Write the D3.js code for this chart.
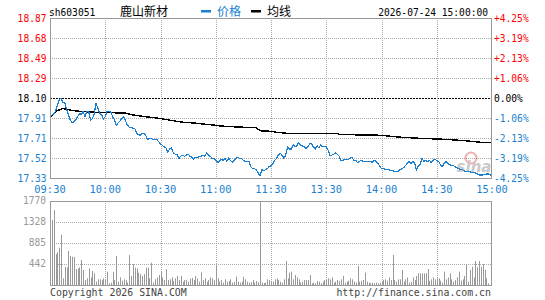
<!DOCTYPE html>
<html>
<head>
<meta charset="utf-8">
<script src="https://cdn.jsdelivr.net/npm/d3@7"></script>
<style>
  body { margin: 0; background: #fff; }
  svg { display: block; }
  text { font-family: "DejaVu Sans Mono", monospace; font-size: 9.6px; }
  .cjk { font-family: "Noto Sans CJK SC", sans-serif; font-size: 12px; }
</style>
</head>
<body>
<div id="chart"></div>
<script>
// header
var stockCode = "sh603051";
var stockName = "鹿山新材";
var stamp = "2026-07-24 15:00:00";
var legendNames = ["价格", "均线"];

// axes
var prevClose = 18.10;
var pctTicks = [4.25, 3.19, 2.13, 1.06, 0, -1.06, -2.13, -3.19, -4.25];
var priceLabels = ["18.87", "18.68", "18.49", "18.29", "18.10", "17.91", "17.71", "17.52", "17.33"];
var pctLabels = ["+4.25%", "+3.19%", "+2.13%", "+1.06%", "0.00%", "-1.06%", "-2.13%", "-3.19%", "-4.25%"];
var timeTicks = [0, 30, 60, 90, 120, 150, 180, 210, 240];
var timeLabels = ["09:30", "10:00", "10:30", "11:00", "11:30", "13:30", "14:00", "14:30", "15:00"];
var volTicks = [1770, 1328, 885, 442];

// price line (minute index from 09:30, price)
var priceMin = [0,2,3,4,5,6,7,8,9,10,11,12,13,14,15,16,17,18,19,20,21,22,23,24,25,26,27,28,29,30,31,33,34,35,36,37,38,39,40,41,42,43,45,46,47,49,50,51,52,53,54,55,56,58,60,62,63,64,65,66,67,68,69,70,71,72,73,74,75,76,77,78,79,80,82,83,84,85,86,87,88,89,90,91,92,93,94,95,96,97,98,99,100,101,102,103,104,105,106,108,109,110,111,112,113,114,115,116,117,118,119,120,
  121,122,123,124,125,126,127,128,129,130,131,132,133,134,135,136,137,138,139,140,141,142,143,144,145,146,147,148,149,150,151,152,153,154,155,156,157,158,159,160,162,163,164,165,166,167,168,169,170,171,172,173,174,175,176,177,178,179,180,181,183,184,186,188,189,190,191,192,193,194,195,196,197,198,199,200,201,202,203,204,205,206,207,208,209,210,211,212,213,214,215,216,217,218,219,220,221,222,223,224,225,226,228,230,231,232,233,235,237,238,239,240];
var priceVal = [17.92,17.95,17.97,18.03,18.08,18.10,18.06,18.06,17.99,17.94,17.89,17.86,17.87,17.89,17.92,17.95,17.94,17.97,17.92,17.97,17.97,17.89,17.90,17.95,18.05,18.00,17.95,17.94,17.90,17.92,17.97,17.97,17.92,17.89,17.84,17.86,17.88,17.90,17.92,17.88,17.84,17.82,17.81,17.81,17.76,17.74,17.76,17.76,17.74,17.70,17.71,17.71,17.70,17.70,17.66,17.63,17.62,17.58,17.61,17.62,17.57,17.56,17.56,17.52,17.54,17.55,17.54,17.55,17.56,17.54,17.53,17.51,17.53,17.53,17.54,17.55,17.54,17.57,17.55,17.54,17.52,17.52,17.50,17.48,17.49,17.51,17.50,17.52,17.49,17.52,17.50,17.48,17.50,17.52,17.53,17.52,17.52,17.50,17.49,17.49,17.44,17.42,17.42,17.41,17.38,17.35,17.41,17.40,17.41,17.42,17.44,17.45,
  17.47,17.50,17.52,17.55,17.57,17.55,17.52,17.55,17.63,17.61,17.61,17.65,17.63,17.64,17.67,17.65,17.64,17.63,17.61,17.63,17.66,17.66,17.63,17.61,17.64,17.62,17.65,17.63,17.63,17.63,17.60,17.55,17.55,17.56,17.57,17.56,17.54,17.50,17.50,17.51,17.51,17.52,17.53,17.50,17.50,17.48,17.49,17.50,17.49,17.49,17.49,17.49,17.49,17.48,17.50,17.49,17.47,17.45,17.42,17.42,17.41,17.41,17.40,17.39,17.39,17.41,17.42,17.43,17.45,17.47,17.49,17.47,17.49,17.47,17.41,17.45,17.46,17.52,17.49,17.50,17.49,17.50,17.48,17.50,17.51,17.50,17.49,17.46,17.44,17.47,17.49,17.47,17.46,17.45,17.45,17.44,17.43,17.42,17.41,17.41,17.40,17.39,17.39,17.38,17.38,17.37,17.36,17.36,17.37,17.37,17.36,17.34];

// average line
var avgMin = [0, 3, 7, 9, 14, 22, 30, 41, 44, 52, 59, 64, 69, 73, 78, 83, 89, 93, 103, 112, 113, 114, 120, 123, 129, 156, 157, 168, 179, 191, 200, 214, 225, 234, 240];
var avgVal = [17.91, 17.97, 18.00, 17.99, 17.975, 17.965, 17.96, 17.955, 17.94, 17.92, 17.905, 17.89, 17.875, 17.865, 17.86, 17.85, 17.84, 17.83, 17.82, 17.815, 17.80, 17.785, 17.78, 17.77, 17.76, 17.757, 17.75, 17.745, 17.742, 17.722, 17.713, 17.703, 17.69, 17.674, 17.67];

// volume per minute (lots)
var volAm = [130,1370,1580,650,695,785,1055,140,385,370,715,610,595,585,335,350,370,525,315,105,140,350,160,295,245,70,120,120,105,140,120,280,35,50,275,105,610,70,160,90,120,105,50,630,190,440,365,350,260,230,190,230,370,365,140,470,50,120,160,210,295,160,105,330,105,120,160,85,140,190,105,190,70,105,105,70,130,150,105,190,140,70,265,105,140,70,105,160,140,105,420,140,70,105,50,120,70,85,120,50,70,175,70,50,70,175,120,70,50,60,105,50,85,60,1769,50,40,50,120,105,85];
var volPm = [70,120,140,105,70,50,120,505,140,260,281,120,211,161,120,50,70,105,105,105,211,35,50,35,85,70,35,70,105,120,140,120,160,50,70,105,85,120,190,50,70,90,140,120,70,50,400,70,90,105,260,70,50,35,50,35,50,35,50,70,105,120,90,160,105,632,105,70,120,120,316,70,120,160,50,70,160,105,190,246,246,246,246,250,337,90,120,160,120,140,140,90,50,281,120,160,246,120,70,105,160,281,90,120,190,442,70,316,386,160,505,372,505,386,442,316,140,35,0,0];
var volume = volAm.concat(volPm);

var width = 545, height = 300;
var svg = d3.select("#chart").append("svg")
  .attr("width", width)
  .attr("height", height);

var blue = "#1a7fd0", red = "#ff0000", grid = "#aaaaaa", frame = "#999999";

var x = d3.scaleLinear().domain([0, 240]).range([50, 492]);
var y = d3.scaleLinear()
  .domain([prevClose * (1 - 0.0425), prevClose * (1 + 0.0425)])
  .range([178, 18]);
var yVol = d3.scaleLinear().domain([0, 1770]).range([285, 201]);

function px(v) { return Math.round(v) + 0.5; }

// header
svg.append("text").attr("x", 49).attr("y", 15.5).text(stockCode);
svg.append("text").attr("class", "cjk").attr("x", 120).attr("y", 16).text(stockName);
svg.append("rect").attr("x", 201).attr("y", 10).attr("width", 10).attr("height", 2.5).attr("fill", blue);
svg.append("text").attr("class", "cjk").attr("x", 217).attr("y", 16).attr("fill", blue).text(legendNames[0]);
svg.append("rect").attr("x", 251).attr("y", 10).attr("width", 10).attr("height", 2.5).attr("fill", "#000");
svg.append("text").attr("class", "cjk").attr("x", 267).attr("y", 16).text(legendNames[1]);
svg.append("text").attr("x", 488).attr("y", 15.5).attr("text-anchor", "end").text(stamp);

// price grid
var pg = svg.append("g");
pctTicks.forEach(function(p, i) {
  var yy = px(y(prevClose * (1 + p / 100)));
  if (i > 0 && i < pctTicks.length - 1) {
    pg.append("line").attr("x1", 50).attr("x2", 492).attr("y1", yy).attr("y2", yy)
      .attr("stroke", p === 0 ? "#000" : grid)
      .attr("stroke-dasharray", p === 0 ? "2,1" : "1,1");
  }
  var c = p > 0 ? red : (p < 0 ? blue : "#000");
  pg.append("text").attr("x", 46.5).attr("y", yy + 3.5).attr("text-anchor", "end")
    .attr("fill", c).text(priceLabels[i]);
  pg.append("text").attr("x", 494).attr("y", yy + 3.5)
    .attr("fill", c).text(pctLabels[i]);
});
timeTicks.forEach(function(t, i) {
  var xx = px(x(t));
  if (i > 0 && i < timeTicks.length - 1) {
    pg.append("line").attr("x1", xx).attr("x2", xx).attr("y1", 18).attr("y2", 178)
      .attr("stroke", grid).attr("stroke-dasharray", "1,1");
    svg.append("line").attr("x1", xx).attr("x2", xx).attr("y1", 201).attr("y2", 285)
      .attr("stroke", grid).attr("stroke-dasharray", "1,1");
  }
  svg.append("text").attr("x", x(t)).attr("y", 193).attr("text-anchor", "middle")
    .attr("fill", blue).style("font-size", "10.4px").text(timeLabels[i]);
});

// sina watermark
var wm = svg.append("g").attr("opacity", 0.45);
wm.append("circle").attr("cx", 471).attr("cy", 158).attr("r", 5.5)
  .attr("fill", "none").attr("stroke", "#e05050").attr("stroke-width", 2);
wm.append("text").attr("x", 474).attr("y", 172).attr("text-anchor", "middle")
  .style("font-family", "'DejaVu Sans', sans-serif").style("font-size", "15px")
  .style("font-weight", "bold").style("font-style", "italic")
  .attr("fill", "#888").text("sina");

// lines
var pts = priceMin.map(function(m, i) { return [m, priceVal[i]]; });
var avgPts = avgMin.map(function(m, i) { return [m, avgVal[i]]; });
var line = d3.line().x(function(d) { return x(d[0]); }).y(function(d) { return y(d[1]); });

svg.append("path").datum(avgPts).attr("d", line)
  .attr("fill", "none").attr("stroke", "#000").attr("stroke-width", 1.4)
  .attr("shape-rendering", "crispEdges");
svg.append("path").datum(pts).attr("d", line)
  .attr("fill", "none").attr("stroke", blue).attr("stroke-width", 1.2)
  .attr("shape-rendering", "crispEdges");

svg.append("rect").attr("x", 50.5).attr("y", 18.5).attr("width", 441).attr("height", 160)
  .attr("fill", "none").attr("stroke", frame);

// volume
volTicks.forEach(function(v, i) {
  var yy = px(yVol(v));
  if (i > 0) {
    svg.append("line").attr("x1", 50).attr("x2", 492).attr("y1", yy).attr("y2", yy)
      .attr("stroke", grid).attr("stroke-dasharray", "1,1");
  }
  svg.append("text").attr("x", 46).attr("y", yy + 2.5).attr("text-anchor", "end")
    .attr("fill", "#999").text(v);
});
svg.append("g").selectAll("line").data(volume).join("line")
  .attr("x1", function(d, i) { return px(x(i)); })
  .attr("x2", function(d, i) { return px(x(i)); })
  .attr("y1", yVol(0))
  .attr("y2", function(d) { return yVol(d); })
  .attr("stroke", "#999");
svg.append("rect").attr("x", 50.5).attr("y", 201.5).attr("width", 441).attr("height", 84)
  .attr("fill", "none").attr("stroke", frame);

// footer
svg.append("text").attr("x", 50).attr("y", 296).attr("fill", "#444").style("font-size", "9.9px")
  .text("Copyright 2026 SINA.COM");
svg.append("text").attr("x", 491).attr("y", 296).attr("text-anchor", "end").attr("fill", "#444")
  .style("font-size", "9.9px").text("http://finance.sina.com.cn");
</script>
</body>
</html>
